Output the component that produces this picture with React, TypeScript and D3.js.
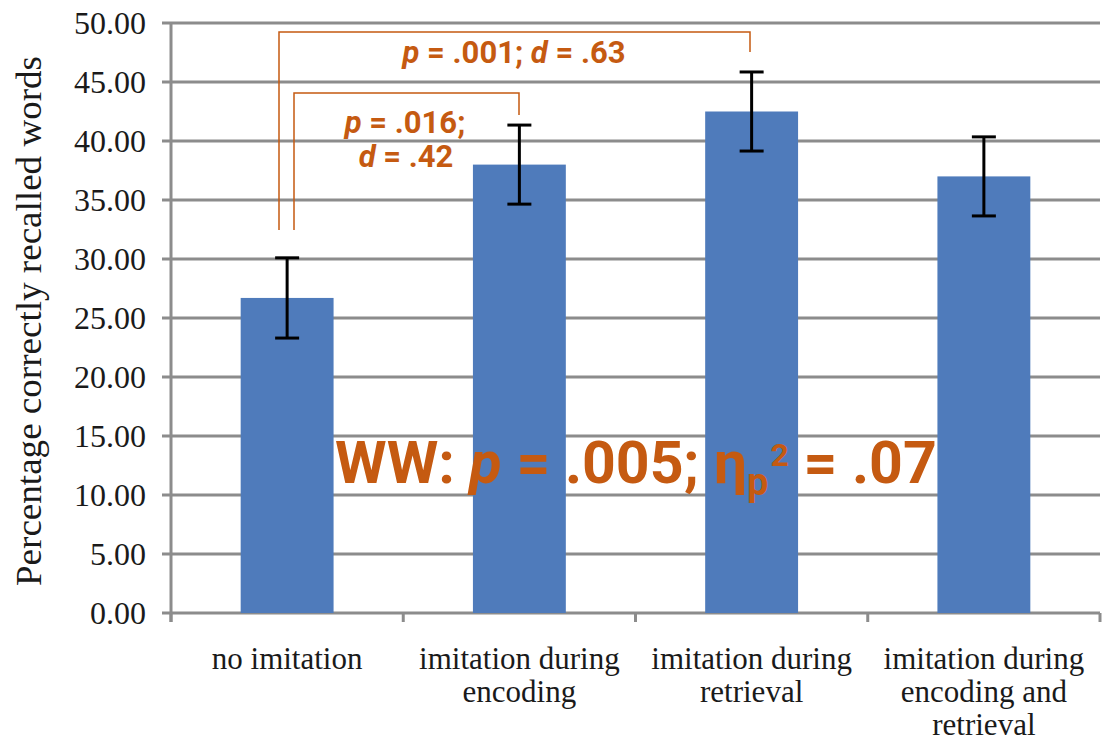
import React from "react";
import * as d3 from "d3";

const categories = [
  ["no imitation"],
  ["imitation during", "encoding"],
  ["imitation during", "retrieval"],
  ["imitation during", "encoding and", "retrieval"],
];
const means = [26.7, 38.0, 42.5, 37.0];
const errors = [3.4, 3.35, 3.35, 3.35];
const yTicks = [0, 5, 10, 15, 20, 25, 30, 35, 40, 45, 50];

const W = 1104;
const H = 741;
const left = 171;
const right = 1100;
const top = 23;
const bottom = 613;
const orange = "#c55a11";

export default function App() {
  const x = d3
    .scaleBand<number>()
    .domain(d3.range(categories.length))
    .range([left, right])
    .paddingInner(0.6)
    .paddingOuter(0.3);
  const step = (right - left) / categories.length;
  const y = d3.scaleLinear().domain([0, 50]).range([bottom, top]);
  const cx = (i: number) => (x(i) as number) + x.bandwidth() / 2;
  const serif = "'Liberation Serif', 'Times New Roman', serif";
  const sans = "Roboto, 'Noto Sans', sans-serif";

  const legBottom = 230;
  return (
    <svg width={W} height={H} style={{ display: "block", position: "absolute", left: 0, top: 0 }}>
      <rect width={W} height={H} fill="#fff" />
      {yTicks.map((t) => (
        <g key={t}>
          <line x1={162} x2={right} y1={y(t)} y2={y(t)} stroke="#8c8c8c" strokeWidth={3} />
          <text x={146} y={y(t)} dy="0.34em" textAnchor="end" fontFamily={serif} fontSize={32} fill="#1a1a1a">
            {t.toFixed(2)}
          </text>
        </g>
      ))}
      <line x1={left} x2={left} y1={top} y2={bottom + 9} stroke="#8c8c8c" strokeWidth={3} />
      {d3.range(categories.length + 1).map((i) => (
        <line key={i} x1={left + i * step} x2={left + i * step} y1={bottom} y2={bottom + 9} stroke="#8c8c8c" strokeWidth={3} />
      ))}
      {means.map((m, i) => (
        <rect key={i} x={x(i)} y={y(m)} width={x.bandwidth()} height={y(0) - y(m)} fill="#4f7bbb" />
      ))}
      {means.map((m, i) => (
        <g key={i} stroke="#000" strokeWidth={3}>
          <line x1={cx(i)} x2={cx(i)} y1={y(m + errors[i])} y2={y(m - errors[i])} />
          <line x1={cx(i) - 12} x2={cx(i) + 12} y1={y(m + errors[i])} y2={y(m + errors[i])} />
          <line x1={cx(i) - 12} x2={cx(i) + 12} y1={y(m - errors[i])} y2={y(m - errors[i])} />
        </g>
      ))}
      {categories.map((lines, i) => (
        <text key={i} textAnchor="middle" fontFamily={serif} fontSize={31} fill="#1a1a1a">
          {lines.map((l, j) => (
            <tspan key={j} x={left + (i + 0.5) * step} y={669 + j * 33}>
              {l}
            </tspan>
          ))}
        </text>
      ))}
      <text
        transform={`translate(41, 321) rotate(-90)`}
        textAnchor="middle"
        fontFamily={serif}
        fontSize={35}
        textLength={530}
        lengthAdjust="spacingAndGlyphs"
        fill="#1a1a1a"
      >
        Percentage correctly recalled words
      </text>
      {/* brackets */}
      <path d={`M279,${legBottom} V32 H750 V52`} fill="none" stroke={orange} strokeWidth={1.5} />
      <path d={`M294,${legBottom} V93 H519 V115`} fill="none" stroke={orange} strokeWidth={1.5} />
      <text x={514} y={63} textAnchor="middle" fontFamily={sans} fontWeight="bold" fontSize={31} fill={orange}>
        <tspan fontStyle="italic">p</tspan> = .001; <tspan fontStyle="italic">d</tspan> = .63
      </text>
      <text x={405} y={133} textAnchor="middle" fontFamily={sans} fontWeight="bold" fontSize={31} fill={orange}>
        <tspan fontStyle="italic">p</tspan> = .016;
      </text>
      <text x={406} y={167} textAnchor="middle" fontFamily={sans} fontWeight="bold" fontSize={31} fill={orange}>
        <tspan fontStyle="italic">d</tspan> = .42
      </text>
      <text x={335} y={483} fontFamily={sans} fontWeight="bold" fontSize={59} fill={orange}>
        WW: <tspan fontStyle="italic">p</tspan> = .005; η
        <tspan fontSize={38} dy={12}>p</tspan>
        <tspan fontSize={32} dy={-29} dx={2}>2</tspan>
        <tspan dy={17}> = .07</tspan>
      </text>
    </svg>
  );
}
